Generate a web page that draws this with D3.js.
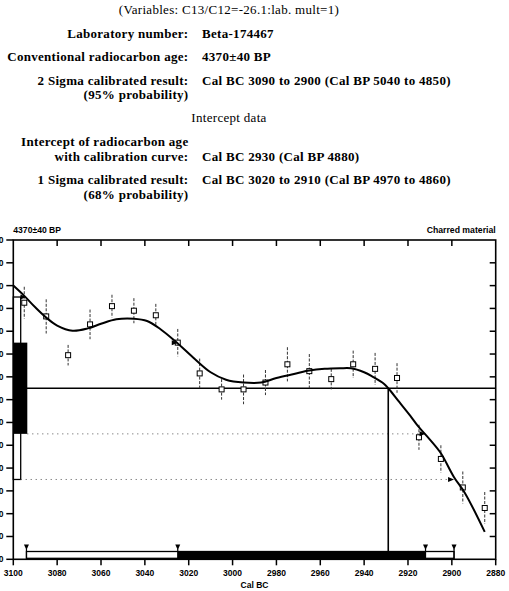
<!DOCTYPE html>
<html><head><meta charset="utf-8">
<script src="https://cdn.jsdelivr.net/npm/d3@7"></script>
<style>
html,body{margin:0;padding:0;background:#fff;}
svg{display:block;}
</style>
</head><body>
<svg id="c" width="509" height="591"></svg>
<script>
// ---- header text ----
const headerTop = "(Variables:  C13/C12=-26.1:lab. mult=1)";
const headerRows = [
  ["Laboratory number:", "Beta-174467"],
  ["Conventional radiocarbon age:", "4370\u00b140 BP"],
  ["2 Sigma calibrated result:", "Cal BC 3090 to 2900 (Cal BP 5040 to 4850)"],
  ["(95% probability)", ""]
];
const interceptTitle = "Intercept data";
const interceptRows = [
  ["Intercept of radiocarbon age", ""],
  ["with calibration curve:", "Cal BC 2930 (Cal BP 4880)"],
  ["1 Sigma calibrated result:", "Cal BC 3020 to 2910 (Cal BP 4970 to 4860)"],
  ["(68% probability)", ""]
];

// ---- chart data ----
const sampleAge = 4370, sampleErr = 40;
const xTicks = [3100,3080,3060,3040,3020,3000,2980,2960,2940,2920,2900,2880];
const yTicks = [4500,4480,4460,4440,4420,4400,4380,4360,4340,4320,4300,4280,4260,4240,4220];
const pointYears = [3095,3085,3075,3065,3055,3045,3035,3025,3015,3005,2995,2985,2975,2965,2955,2945,2935,2925,2915,2905,2895,2885];
const pointBP    = [4445,4433,4399,4426,4442,4438,4434,4410,4383,4369,4369,4375,4391,4385,4378,4391,4387,4379,4327,4308,4283,4265];
const pointErr   = [14,15,9,13,10,11,10,12,13,9,13,11,15,15,9,12,14,13,11,12,14,14];
const curveYears = [3100,3095,3090,3085,3080,3073,3066,3060,3053,3045,3039,3033,3026,3018,3010,3003,2995,2987,2980,2972,2965,2958,2951,2946,2940,2936,2931,2929,2924,2919,2915.5,2910,2905,2899,2894,2885];
const curveBP    = [4460,4451,4441,4432,4425,4420.5,4422.5,4426.5,4430.5,4431,4429,4422,4411,4397,4384,4377.5,4375,4375,4379,4382.5,4385.5,4387,4387.5,4387.5,4384,4380,4374,4370,4358,4346,4337,4325,4313,4292,4278,4244];
const sigma1 = [3025, 2912];   // 1 sigma calendar range (plot)
const sigma2 = [3094, 2899];   // 2 sigma calendar range (plot)
const interceptYear = 2929;
const leftLabel = "4370\u00b140 BP";
const rightLabel = "Charred material";
const xTitle = "Cal BC";

const svg = d3.select("#c");
const serif = "'Liberation Serif','Times New Roman',serif";
const sans = "'Liberation Sans',Arial,sans-serif";
const hfs = 13, hls = 0.3;

function htext(xp, yp, str, anchor, bold){
  svg.append("text").attr("x",xp).attr("y",yp).attr("text-anchor",anchor)
    .attr("font-family",serif).attr("font-weight",bold?"bold":"normal")
    .attr("font-size",hfs).attr("letter-spacing",hls).text(str);
}

// header
htext(229, 13.5, headerTop, "middle", false);
const labX = 188.5, valX = 202;
const hy = [37.5, 61, 84.5, 98.5];
headerRows.forEach((r,i)=>{
  htext(labX, hy[i], r[0], "end", true);
  if(r[1]) htext(valX, hy[i], r[1], "start", true);
});
htext(229, 122, interceptTitle, "middle", false);
const iy = [146, 160.5, 184, 198.5];
interceptRows.forEach((r,i)=>{
  htext(labX, iy[i], r[0], "end", true);
  if(r[1]) htext(valX, iy[i], r[1], "start", true);
});

// scales
const L = 13.3, R = 495.7, T = 240, B = 559.3;
const x = d3.scaleLinear().domain([3100,2880]).range([L,R]);
const y = d3.scaleLinear().domain([4220,4500]).range([B,T]);

// labels above plot
svg.append("text").attr("x",L).attr("y",233).attr("font-family",sans).attr("font-weight","bold")
  .attr("font-size",8.6).text(leftLabel);
svg.append("text").attr("x",R).attr("y",233).attr("text-anchor","end").attr("font-family",sans)
  .attr("font-weight","bold").attr("font-size",8.7).text(rightLabel);

// sigma bars on y axis
svg.append("rect").attr("x",L).attr("y",y(sampleAge+2*sampleErr)).attr("width",7.4)
  .attr("height",y(sampleAge-2*sampleErr)-y(sampleAge+2*sampleErr))
  .attr("fill","#fff").attr("stroke","#000").attr("stroke-width",1.3);
svg.append("rect").attr("x",L).attr("y",y(sampleAge+sampleErr)).attr("width",14)
  .attr("height",y(sampleAge-sampleErr)-y(sampleAge+sampleErr)).attr("fill","#000");

// dotted lower limits
svg.append("line").attr("x1",L+14).attr("x2",x(sigma1[1])-5)
  .attr("y1",y(sampleAge-sampleErr)).attr("y2",y(sampleAge-sampleErr))
  .attr("stroke","#555").attr("stroke-width",1).attr("stroke-dasharray","1,4");
svg.append("line").attr("x1",L+7.4).attr("x2",x(sigma2[1])-5)
  .attr("y1",y(sampleAge-2*sampleErr)).attr("y2",y(sampleAge-2*sampleErr))
  .attr("stroke","#555").attr("stroke-width",1).attr("stroke-dasharray","1,4");

// mean line and intercept
svg.append("line").attr("x1",L).attr("x2",R).attr("y1",y(sampleAge)).attr("y2",y(sampleAge))
  .attr("stroke","#000").attr("stroke-width",1.6);
svg.append("line").attr("x1",x(interceptYear)).attr("x2",x(interceptYear))
  .attr("y1",y(sampleAge)).attr("y2",B).attr("stroke","#000").attr("stroke-width",1.6);

// error bars & points
pointYears.forEach((yr,i)=>{
  svg.append("line").attr("x1",x(yr)).attr("x2",x(yr))
    .attr("y1",y(pointBP[i]+pointErr[i])).attr("y2",y(pointBP[i]-pointErr[i]))
    .attr("stroke","#333").attr("stroke-width",1).attr("stroke-dasharray","3,1.5");
});
pointYears.forEach((yr,i)=>{
  svg.append("rect").attr("x",x(yr)-2.5).attr("y",y(pointBP[i])-2.5).attr("width",5).attr("height",5)
    .attr("fill","#fff").attr("stroke","#000").attr("stroke-width",1);
});

// calibration curve
const line = d3.line().x(d=>x(d[0])).y(d=>y(d[1])).curve(d3.curveCatmullRom.alpha(0.5));
svg.append("path").datum(curveYears.map((v,i)=>[v,curveBP[i]])).attr("d",line)
  .attr("fill","none").attr("stroke","#000").attr("stroke-width",2);

// intercept triangles on curve
[[sigma2[0],sampleAge+2*sampleErr],[sigma1[0],sampleAge+sampleErr],[sigma1[1],sampleAge-sampleErr],[sigma2[1],sampleAge-2*sampleErr]]
.forEach(p=>{
  const px=x(p[0]), py=y(p[1]);
  svg.append("path").attr("d",`M${px-6},${py-2.5}L${px-6},${py+2.5}L${px},${py}Z`).attr("fill","#000");
});

// calendar bars
const barTop = 551.5;
svg.append("rect").attr("x",x(sigma2[0])).attr("y",barTop).attr("width",x(sigma2[1])-x(sigma2[0]))
  .attr("height",B-barTop-1).attr("fill","#fff").attr("stroke","#000").attr("stroke-width",1.3);
svg.append("rect").attr("x",x(sigma1[0])).attr("y",barTop-0.5).attr("width",x(sigma1[1])-x(sigma1[0]))
  .attr("height",B-barTop+1).attr("fill","#000");
[sigma2[0],sigma1[0],sigma1[1],sigma2[1]].forEach(yr=>{
  const px=x(yr);
  svg.append("path").attr("d",`M${px-2.5},${barTop-7}L${px+2.5},${barTop-7}L${px},${barTop-1.5}Z`).attr("fill","#000");
  svg.append("line").attr("x1",px).attr("x2",px).attr("y1",barTop-3).attr("y2",B).attr("stroke","#000").attr("stroke-width",1.2);
});

// frame
svg.append("rect").attr("x",L).attr("y",T).attr("width",R-L).attr("height",B-T)
  .attr("fill","none").attr("stroke","#000").attr("stroke-width",1.6);

// ticks
xTicks.forEach(v=>{
  svg.append("line").attr("x1",x(v)).attr("x2",x(v)).attr("y1",B).attr("y2",B+6).attr("stroke","#000").attr("stroke-width",1.5);
  if(v!==3100 && v!==2880)
    svg.append("line").attr("x1",x(v)).attr("x2",x(v)).attr("y1",T).attr("y2",T+6).attr("stroke","#000").attr("stroke-width",1.5);
  svg.append("text").attr("x",x(v)).attr("y",576).attr("text-anchor","middle")
    .attr("font-family",sans).attr("font-weight","bold").attr("font-size",8.5).text(v);
});
yTicks.forEach(v=>{
  svg.append("line").attr("x1",L-7).attr("x2",L).attr("y1",y(v)).attr("y2",y(v)).attr("stroke","#000").attr("stroke-width",1.5);
  if(v!==4500 && v!==4220)
    svg.append("line").attr("x1",R-6).attr("x2",R).attr("y1",y(v)).attr("y2",y(v)).attr("stroke","#000").attr("stroke-width",1.5);
  svg.append("text").attr("x",3.5).attr("y",y(v)+3).attr("text-anchor","end")
    .attr("font-family",sans).attr("font-weight","bold").attr("font-size",8.5).text(v);
});
svg.append("text").attr("x",(L+R)/2).attr("y",587.5).attr("text-anchor","middle")
  .attr("font-family",sans).attr("font-weight","bold").attr("font-size",8.5).text(xTitle);
</script>
</body></html>
